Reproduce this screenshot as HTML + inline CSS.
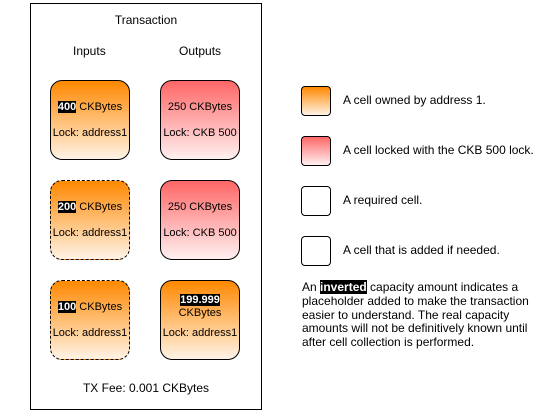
<!DOCTYPE html>
<html><head><meta charset="utf-8"><style>
body{margin:0;width:541px;height:411px;background:#fff;font-family:"Liberation Sans",Arial,sans-serif;font-size:11px;color:#000;position:relative;overflow:hidden}
div{position:absolute;box-sizing:border-box}
.tx{left:30px;top:3px;width:232px;height:407px;border:1px solid #000}
.cell{width:80px;height:80px;border:1px solid #000;border-radius:12px;text-align:center}
.or{background:linear-gradient(#ff8800,#fff3e6)}
.rd{background:linear-gradient(#ff6666,#fff0f0)}
.wh{background:#fff}
.dash{border-style:dashed}
.l1{position:absolute;left:0;right:0;top:20px}
.l2{position:absolute;left:0;right:0;top:46px}
.inv{background:#000;color:#fff;font-weight:bold}
.lg{left:301px;width:30px;height:30px;border:1px solid #000;border-radius:4px}
.lt{left:343px;font-size:12px}
</style></head><body>
<div class="tx"></div>
<div style="left:30px;width:232px;top:13px;text-align:center;font-size:12px">Transaction</div>
<div style="left:73px;top:44px;font-size:12px">Inputs</div>
<div style="left:179px;top:44px;font-size:12px">Outputs</div>

<div class="cell or" style="left:50px;top:80px"><span class="l1"><span class="inv">400</span> CKBytes</span><span class="l2">Lock: address1</span></div>
<div class="cell rd" style="left:160px;top:80px"><span class="l1">250 CKBytes</span><span class="l2">Lock: CKB 500</span></div>
<div class="cell or dash" style="left:50px;top:180px"><span class="l1"><span class="inv">200</span> CKBytes</span><span class="l2">Lock: address1</span></div>
<div class="cell rd" style="left:160px;top:180px"><span class="l1">250 CKBytes</span><span class="l2">Lock: CKB 500</span></div>
<div class="cell or dash" style="left:50px;top:280px"><span class="l1"><span class="inv">100</span> CKBytes</span><span class="l2">Lock: address1</span></div>
<div class="cell or" style="left:160px;top:280px"><span class="l1" style="top:13px;line-height:13px"><span class="inv">199.999</span><br>CKBytes</span><span class="l2">Lock: address1</span></div>

<div style="left:30px;width:232px;top:381px;text-align:center;font-size:12px">TX Fee: 0.001 CKBytes</div>

<div class="lg or" style="top:86px"></div>
<div class="lt" style="top:93px">A cell owned by address 1.</div>
<div class="lg rd" style="top:136px"></div>
<div class="lt" style="top:143px">A cell locked with the CKB 500 lock.</div>
<div class="lg wh" style="top:186px"></div>
<div class="lt" style="top:193px">A required cell.</div>
<div class="lg wh dash" style="top:236px"></div>
<div class="lt" style="top:243px">A cell that is added if needed.</div>
<div style="left:302px;top:281px;width:232px;line-height:13.8px;font-size:12px">An <span class="inv">inverted</span> capacity amount indicates a placeholder added to make the transaction easier to understand. The real capacity amounts will not be definitively known until after cell collection is performed.</div>
</body></html>
